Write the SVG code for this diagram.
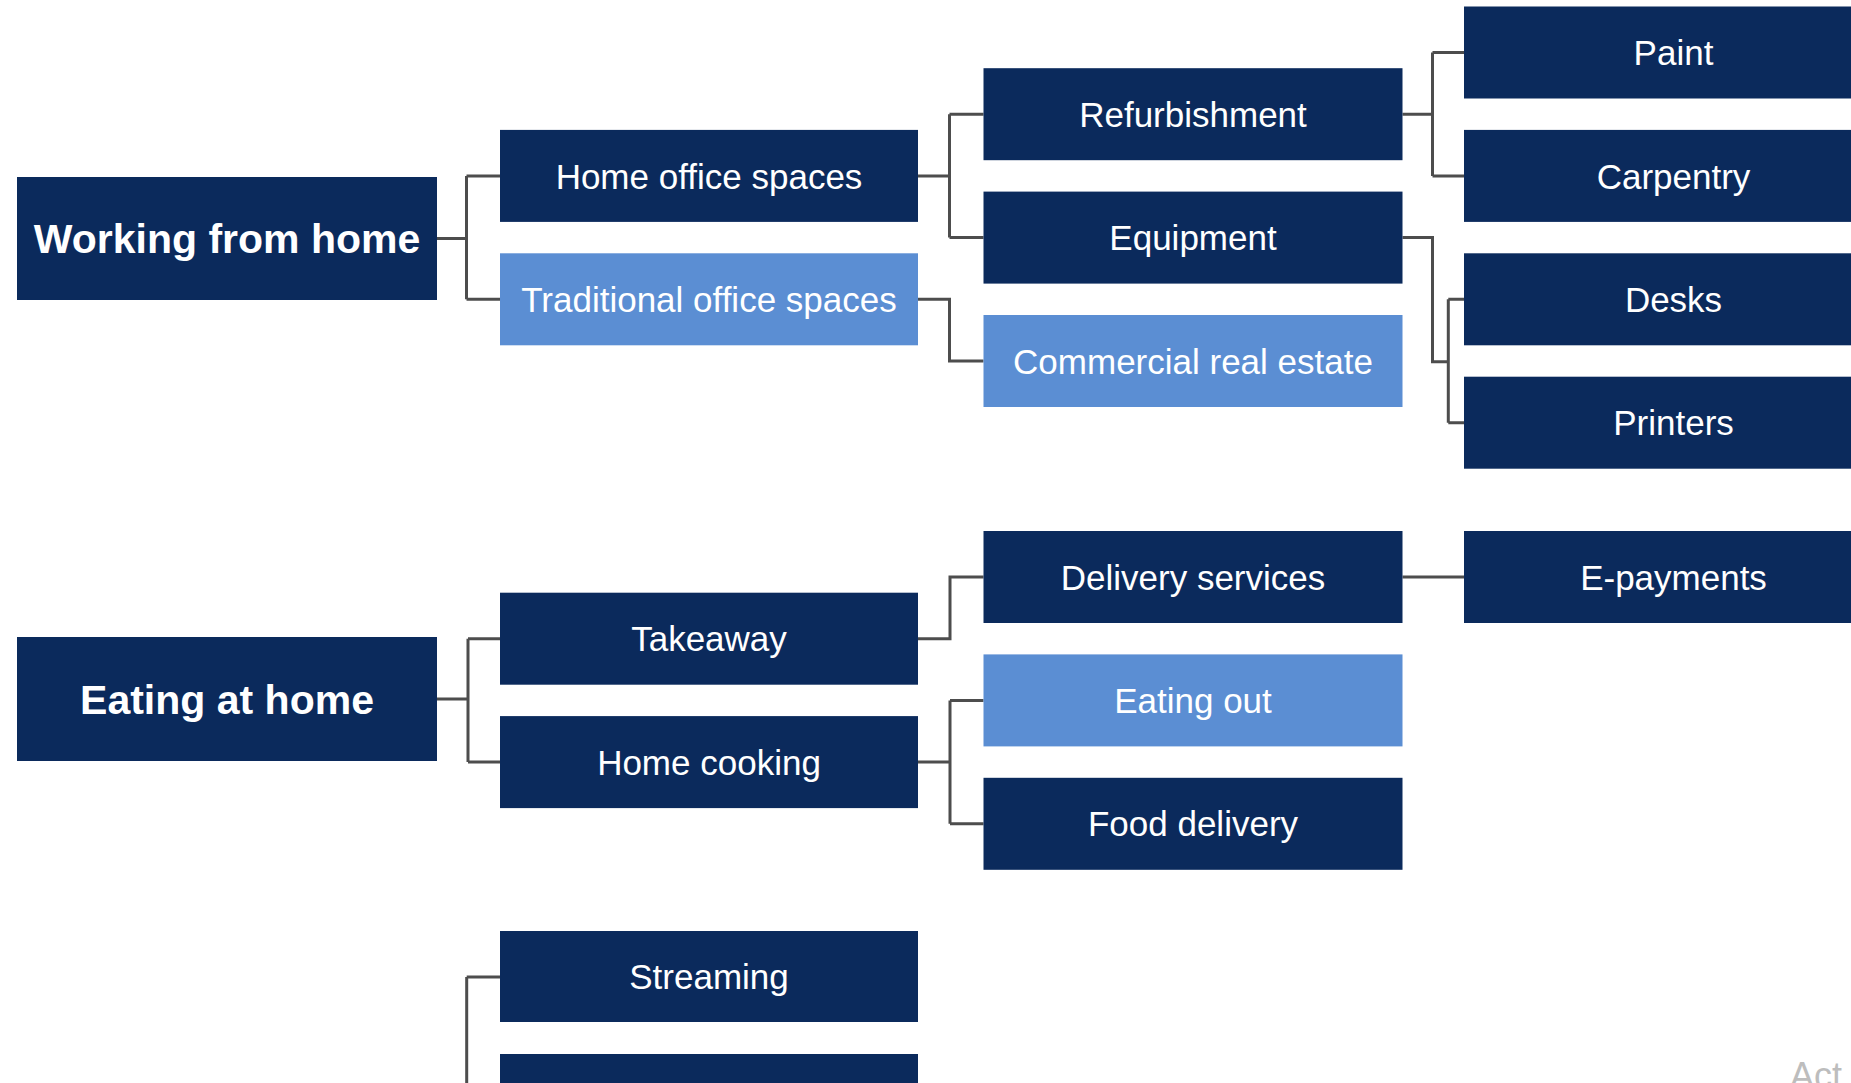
<svg xmlns="http://www.w3.org/2000/svg" width="1851" height="1083" viewBox="0 0 1851 1083">
<style>
.dk{fill:#0b2a5c}
.lt{fill:#5b8ed3}
.t{font-family:"Liberation Sans",Arial,sans-serif;font-size:35px;fill:#ffffff;text-anchor:middle}
.b{font-family:"Liberation Sans",Arial,sans-serif;font-size:41px;font-weight:bold;fill:#ffffff;text-anchor:middle}
.c{fill:none;stroke:#4d4d4d;stroke-width:3}
</style>
<rect width="1851" height="1083" fill="#ffffff"/>
<g id="connectors">
<path class="c" d="M437 238.5H466.5M466.5 175.9V299.3M466.5 175.9H500M466.5 299.3H500"/>
<path class="c" d="M918 175.9H949.5M949.5 114.2V237.6M949.5 114.2H983.5M949.5 237.6H983.5"/>
<path class="c" d="M918 299.3H949.5V361H983.5"/>
<path class="c" d="M1402.5 114.2H1432.5M1432.5 52.5V175.9M1432.5 52.5H1464M1432.5 175.9H1464"/>
<path class="c" d="M1402.5 237.6H1432.5V361.7H1448.3M1448.3 299.3V422.7M1448.3 299.3H1464M1448.3 422.7H1464"/>
<path class="c" d="M437 699H468M468 638.7V762.1M468 638.7H500M468 762.1H500"/>
<path class="c" d="M918 638.7H950V577H983.5"/>
<path class="c" d="M918 762.1H950M950 700.4V823.8M950 700.4H983.5M950 823.8H983.5"/>
<path class="c" d="M1402.5 577H1464"/>
<path class="c" d="M466.7 977V1083M466.7 977H500"/>
</g>
<g id="n-wfh"><rect class="dk" x="17" y="177" width="420" height="123"/><text class="b" x="227" y="253">Working from home</text></g>
<g id="n-homeoffice"><rect class="dk" x="500" y="129.9" width="418" height="92"/><text class="t" x="709" y="188.5">Home office spaces</text></g>
<g id="n-traditional"><rect class="lt" x="500" y="253.3" width="418" height="92"/><text class="t" x="709" y="311.9">Traditional office spaces</text></g>
<g id="n-refurb"><rect class="dk" x="983.5" y="68.2" width="419" height="92"/><text class="t" x="1193" y="126.8">Refurbishment</text></g>
<g id="n-equipment"><rect class="dk" x="983.5" y="191.6" width="419" height="92"/><text class="t" x="1193" y="250.2">Equipment</text></g>
<g id="n-commercial"><rect class="lt" x="983.5" y="315" width="419" height="92"/><text class="t" x="1193" y="373.6">Commercial real estate</text></g>
<g id="n-paint"><rect class="dk" x="1464" y="6.5" width="419" height="92"/><text class="t" x="1673.5" y="65.1">Paint</text></g>
<g id="n-carpentry"><rect class="dk" x="1464" y="129.9" width="419" height="92"/><text class="t" x="1673.5" y="188.5">Carpentry</text></g>
<g id="n-desks"><rect class="dk" x="1464" y="253.3" width="419" height="92"/><text class="t" x="1673.5" y="311.9">Desks</text></g>
<g id="n-printers"><rect class="dk" x="1464" y="376.7" width="419" height="92"/><text class="t" x="1673.5" y="435.3">Printers</text></g>
<g id="n-eah"><rect class="dk" x="17" y="637" width="420" height="124"/><text class="b" x="227" y="713.5">Eating at home</text></g>
<g id="n-takeaway"><rect class="dk" x="500" y="592.7" width="418" height="92"/><text class="t" x="709" y="651.3">Takeaway</text></g>
<g id="n-homecooking"><rect class="dk" x="500" y="716.1" width="418" height="92"/><text class="t" x="709" y="774.7">Home cooking</text></g>
<g id="n-delivery"><rect class="dk" x="983.5" y="531" width="419" height="92"/><text class="t" x="1193" y="589.6">Delivery services</text></g>
<g id="n-eatingout"><rect class="lt" x="983.5" y="654.4" width="419" height="92"/><text class="t" x="1193" y="713">Eating out</text></g>
<g id="n-fooddelivery"><rect class="dk" x="983.5" y="777.8" width="419" height="92"/><text class="t" x="1193" y="836.4">Food delivery</text></g>
<g id="n-epayments"><rect class="dk" x="1464" y="531" width="419" height="92"/><text class="t" x="1673.5" y="589.6">E-payments</text></g>
<g id="n-streaming"><rect class="dk" x="500" y="931" width="418" height="91"/><text class="t" x="709" y="989">Streaming</text></g>
<g id="n-next"><rect class="dk" x="500" y="1054" width="418" height="60"/></g>
<text x="1790" y="1088" font-family="Liberation Sans,Arial,sans-serif" font-size="36" fill="#bdbdbd">Act</text>
</svg>
